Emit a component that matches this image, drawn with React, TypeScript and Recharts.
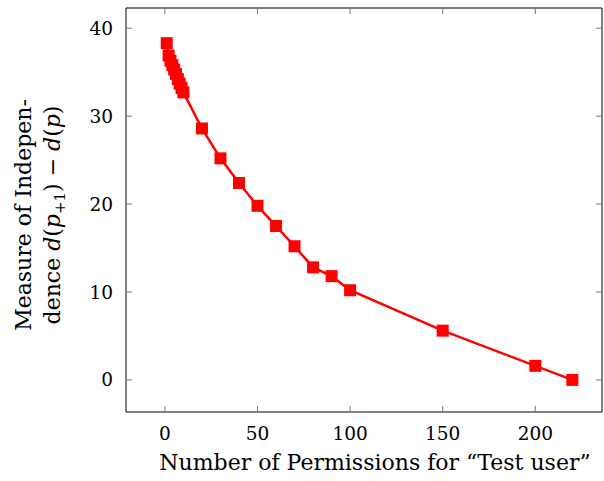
import React from 'react';
import { LineChart, Line, XAxis, YAxis, Label } from 'recharts';

const permissions = [1, 2, 3, 4, 5, 6, 7, 8, 9, 10, 20, 30, 40, 50, 60, 70, 80, 90, 100, 150, 200, 220];
const independence = [38.3, 36.9, 36.3, 35.8, 35.3, 34.8, 34.2, 33.7, 33.2, 32.7, 28.6, 25.2, 22.4, 19.8, 17.5, 15.2, 12.8, 11.8, 10.2, 5.6, 1.6, 0];
const xTicks = [0, 50, 100, 150, 200];
const yTicks = [0, 10, 20, 30, 40];
const xDomain = [-21, 236];
const yDomain = [-3.65, 42.3];

const data = permissions.map((x, i) => ({ x, y: independence[i] }));

const FONT = '"DejaVu Serif", "Liberation Serif", serif';
const FS = 18.5;
const TFS = 22;
const tickStyle = { fontSize: FS, fill: '#000', fontFamily: FONT };
const tickLineStyle = { stroke: '#777', strokeWidth: 1 };
const axisLineStyle = { stroke: '#000', strokeWidth: 1 };

const SquareDot = (props: any) => {
  const { cx, cy, index } = props;
  if (cx == null || cy == null) return <g key={index} />;
  return <rect key={index} x={cx - 6} y={cy - 6} width={12} height={12} fill="#ff0000" />;
};

const Empty = () => <g />;

const YTitle = () => (
  <g fontFamily={FONT} fontSize={TFS} fill="#000">
    <text transform="translate(30.5,215) rotate(-90)" textAnchor="middle">Measure of Indepen-</text>
    <text transform="translate(60,215) rotate(-90)" textAnchor="middle">
      <tspan>dence </tspan>
      <tspan fontStyle="italic">d</tspan>
      <tspan>(</tspan>
      <tspan fontStyle="italic">p</tspan>
      <tspan fontSize={15} dy={5}>+1</tspan>
      <tspan dy={-5}>) − </tspan>
      <tspan fontStyle="italic">d</tspan>
      <tspan>(</tspan>
      <tspan fontStyle="italic">p</tspan>
      <tspan>)</tspan>
    </text>
  </g>
);

export default function App() {
  return (
    <div style={{ position: 'absolute', left: 0, top: 0, width: 604, height: 481, background: '#fff' }}>
      <LineChart
        width={604}
        height={481}
        data={data}
        margin={{ top: 7, right: 1, bottom: 0, left: 0 }}
        style={{ fontFamily: FONT }}
      >
        <XAxis
          xAxisId="b"
          dataKey="x"
          type="number"
          orientation="bottom"
          domain={xDomain}
          ticks={xTicks}
          allowDataOverflow
          height={69}
          tickSize={-6}
          tickMargin={21}
          tick={tickStyle}
          tickLine={tickLineStyle}
          axisLine={axisLineStyle}
        >
          <Label
            content={() => (
              <text x={375} y={470} textAnchor="middle" fontFamily={FONT} fontSize={TFS} fill="#000">
                Number of Permissions for “Test user”
              </text>
            )}
          />
        </XAxis>
        <XAxis
          xAxisId="t"
          dataKey="x"
          type="number"
          orientation="top"
          domain={xDomain}
          ticks={xTicks}
          allowDataOverflow
          height={1}
          tickSize={-6}
          tick={Empty}
          tickLine={tickLineStyle}
          axisLine={axisLineStyle}
        />
        <YAxis
          yAxisId="l"
          dataKey="y"
          type="number"
          orientation="left"
          domain={yDomain}
          ticks={yTicks}
          allowDataOverflow
          width={126}
          tickSize={-6}
          tickMargin={19}
          tick={tickStyle}
          tickLine={tickLineStyle}
          axisLine={axisLineStyle}
        >
          <Label content={() => <YTitle />} />
        </YAxis>
        <YAxis
          yAxisId="r"
          dataKey="y"
          type="number"
          orientation="right"
          domain={yDomain}
          ticks={yTicks}
          allowDataOverflow
          width={1}
          tickSize={-6}
          tick={Empty}
          tickLine={tickLineStyle}
          axisLine={axisLineStyle}
        />
        <Line
          xAxisId="b"
          yAxisId="l"
          dataKey="y"
          type="linear"
          stroke="#ff0000"
          strokeWidth={2.5}
          dot={SquareDot}
          activeDot={false}
          isAnimationActive={false}
        />
      </LineChart>
    </div>
  );
}
